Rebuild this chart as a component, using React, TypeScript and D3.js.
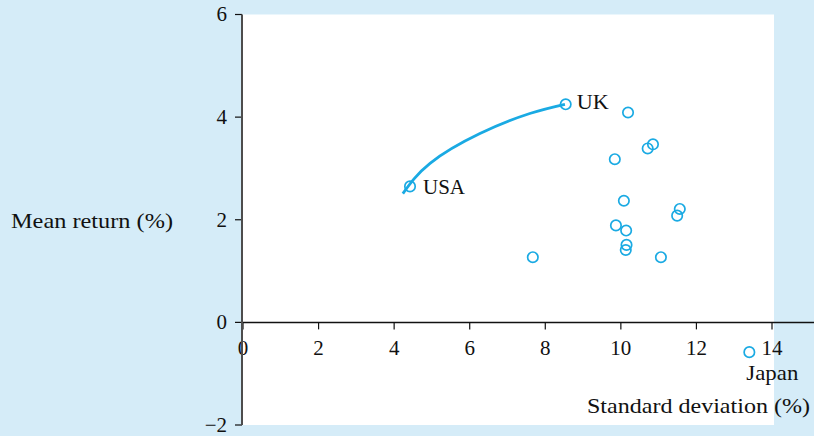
import React, { useEffect, useRef } from "react";
import * as d3 from "d3";

const W = 814;
const H = 436;

// Scatter: standard deviation (%) vs mean return (%)
const sdValues = [4.42, 8.54, 10.19, 10.85, 10.71, 9.84, 10.08, 11.56, 11.49, 9.87, 10.14, 10.15, 10.13, 7.67, 11.06, 13.4];
const meanValues = [2.65, 4.25, 4.09, 3.47, 3.39, 3.18, 2.37, 2.21, 2.08, 1.89, 1.79, 1.51, 1.41, 1.27, 1.27, -0.58];
const pointLabels = ["USA", "UK", "", "", "", "", "", "", "", "", "", "", "", "", "", "Japan"];

// Frontier curve between USA and UK
const curveSd = [4.23, 4.95, 6.27, 7.59, 8.52];
const curveMean = [2.51, 3.1, 3.68, 4.07, 4.25];

const xTicks = [0, 2, 4, 6, 8, 10, 12, 14];
const yTicks = [-2, 0, 2, 4, 6];

const BLUE = "#1aaae3";
const BG = "#d5ecf8";
const FONT = "'Liberation Serif', serif";

export default function App() {
  const ref = useRef<SVGSVGElement | null>(null);

  useEffect(() => {
    const svg = d3.select(ref.current);
    svg.selectAll("*").remove();

    const x = d3.scaleLinear().domain([0, 14]).range([243, 772]);
    const y = d3.scaleLinear().domain([-2, 6]).range([425, 14.5]);

    svg.append("rect").attr("x", 0).attr("y", 0).attr("width", W).attr("height", H).attr("fill", BG);
    svg.append("rect").attr("x", 243).attr("y", 14.5).attr("width", 531).attr("height", 410.5).attr("fill", "#fff");

    // y axis
    const gy = svg.append("g");
    yTicks.forEach((t) => {
      gy.append("line").attr("x1", 235).attr("x2", 242).attr("y1", y(t)).attr("y2", y(t)).attr("stroke", "#111").attr("stroke-width", 1.2);
      gy.append("text").attr("x", 227).attr("y", y(t)).attr("dy", "0.33em").attr("text-anchor", "end")
        .style("font-family", FONT).style("font-size", "21px").attr("fill", "#111")
        .text(t < 0 ? "\u2212" + Math.abs(t) : String(t));
    });

    // x axis
    const gx = svg.append("g");
    gx.append("line").attr("x1", 243).attr("x2", W).attr("y1", y(0)).attr("y2", y(0)).attr("stroke", "#111").attr("stroke-width", 1.5);
    xTicks.forEach((t) => {
      gx.append("line").attr("x1", x(t)).attr("x2", x(t)).attr("y1", y(0)).attr("y2", y(0) + 7).attr("stroke", "#111").attr("stroke-width", 1.2);
      gx.append("text").attr("x", x(t)).attr("y", 355).attr("text-anchor", "middle")
        .style("font-family", FONT).style("font-size", "21px").attr("fill", "#111").text(String(t));
    });
    // y axis line drawn over the "0" label
    svg.append("line").attr("x1", 242).attr("x2", 242).attr("y1", y(6)).attr("y2", y(-2)).attr("stroke", "#4d4d4d").attr("stroke-width", 2);

    // axis titles
    svg.append("text").attr("x", 11).attr("y", 228).style("font-family", FONT).style("font-size", "22px")
      .attr("fill", "#111").attr("textLength", 162).attr("lengthAdjust", "spacingAndGlyphs").text("Mean return (%)");
    svg.append("text").attr("x", 587).attr("y", 413).style("font-family", FONT).style("font-size", "22px")
      .attr("fill", "#111").attr("textLength", 223).attr("lengthAdjust", "spacingAndGlyphs").text("Standard deviation (%)");

    // frontier curve
    const line = d3.line<number>().x((d, i) => x(curveSd[i])).y((d, i) => y(curveMean[i])).curve(d3.curveNatural);
    svg.append("path").attr("d", line(curveSd)).attr("fill", "none").attr("stroke", BLUE).attr("stroke-width", 2.8);

    // points
    sdValues.forEach((s, i) => {
      svg.append("circle").attr("cx", x(s)).attr("cy", y(meanValues[i])).attr("r", 5.2)
        .attr("fill", "none").attr("stroke", BLUE).attr("stroke-width", 1.7);
    });

    // labels
    const labelPos: Record<string, [number, number, number]> = {
      USA: [13, 8, 42],
      UK: [11, 5, 32],
      Japan: [-3, 28, 52],
    };
    pointLabels.forEach((lab, i) => {
      if (!lab) return;
      const [dx, dy, len] = labelPos[lab];
      svg.append("text").attr("x", x(sdValues[i]) + dx).attr("y", y(meanValues[i]) + dy)
        .style("font-family", FONT).style("font-size", "22px").attr("fill", "#111")
        .attr("textLength", len).attr("lengthAdjust", "spacingAndGlyphs").text(lab);
    });
  }, []);

  return (
    <svg ref={ref} width={W} height={H} style={{ position: "absolute", left: 0, top: 0, display: "block" }} />
  );
}
